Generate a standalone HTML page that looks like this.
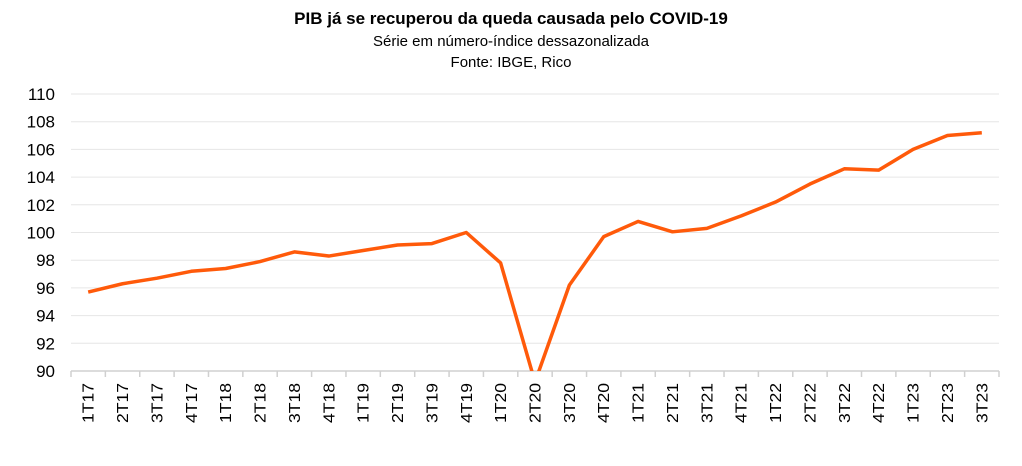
<!DOCTYPE html>
<html><head><meta charset="utf-8"><style>body{margin:0;background:#fff}svg{display:block}</style></head><body>
<svg width="1022" height="466" xmlns="http://www.w3.org/2000/svg" font-family="Liberation Sans, Arial, sans-serif">
<text x="511" y="24" text-anchor="middle" font-size="17" font-weight="bold">PIB já se recuperou da queda causada pelo COVID-19</text>
<text x="511" y="46" text-anchor="middle" font-size="15">Série em número-índice dessazonalizada</text>
<text x="511" y="67" text-anchor="middle" font-size="15">Fonte: IBGE, Rico</text>
<g id="grid" stroke="#e6e6e6" stroke-width="1"></g>
<g id="ylab" font-size="17" text-anchor="end"></g>
<line x1="71" y1="371" x2="999" y2="371" stroke="#d0d0d0" stroke-width="1.5"/>
<g id="ticks" stroke="#d0d0d0" stroke-width="1.5"></g>
<g id="xlab" font-size="16" text-anchor="end"></g>
<defs><clipPath id="c"><rect x="71" y="80" width="940" height="291"/></clipPath></defs>
<polyline id="line" clip-path="url(#c)" fill="none" stroke="#ff5a0a" stroke-width="3.5" stroke-linejoin="round"/>
</svg>
<script>
var ns="http://www.w3.org/2000/svg";
function el(t,a,p,txt){var e=document.createElementNS(ns,t);for(var k in a)e.setAttribute(k,a[k]);if(txt)e.textContent=txt;document.getElementById(p).appendChild(e);return e;}
function Y(v){return 371-(v-90)*13.85;}
for(var v=92;v<=110;v+=2){el("line",{x1:71,x2:999,y1:Y(v),y2:Y(v)},"grid");}
for(var v=90;v<=110;v+=2){el("text",{x:55,y:Y(v)+6},"ylab",v);}
var labs=[],vals=[95.7,96.3,96.7,97.2,97.4,97.9,98.6,98.3,98.7,99.1,99.2,100.0,97.8,89.2,96.2,99.7,100.8,100.05,100.3,101.2,102.2,103.5,104.6,104.5,106.0,107.0,107.2];
var q=["1T","2T","3T","4T"];for(var i=0;i<27;i++)labs.push(q[i%4]+(17+Math.floor(i/4)));
var sp=34.37,pts=[];
for(var i=0;i<=27;i++){el("line",{x1:71+i*sp,x2:71+i*sp,y1:371,y2:377},"ticks");}
for(var i=0;i<27;i++){var x=71+sp/2+i*sp;pts.push(x+","+Y(vals[i]));
el("text",{x:0,y:0,textLength:40,lengthAdjust:"spacingAndGlyphs",transform:"translate("+(x+5.5)+",383) rotate(-90)"},"xlab",labs[i]);}
document.getElementById("line").setAttribute("points",pts.join(" "));
</script>
</body></html>
